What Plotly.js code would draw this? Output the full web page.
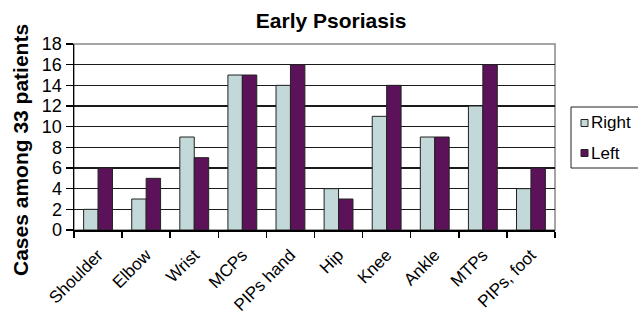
<!DOCTYPE html>
<html>
<head>
<script src="https://cdn.plot.ly/plotly-3.0.1.min.js"></script>
<style>html,body{margin:0;padding:0;background:#fff;}#chart{width:638px;height:314px;}</style>
</head>
<body>
<div id="chart"></div>
<script>
const categories = ["Shoulder","Elbow","Wrist","MCPs","PIPs hand","Hip","Knee","Ankle","MTPs","PIPs, foot"];
const rightValues = [2,3,9,15,14,4,11,9,12,4];
const leftValues = [6,5,7,15,16,3,14,9,16,6];
const yTicks = [0,2,4,6,8,10,12,14,16,18];
const seriesNames = ["Right","Left"];
const seriesColors = ["#c3d9d9","#5b1259"];

// plot area in pixels
const PL = 74, PR = 555, PT = 44, PB = 230;
const px = v => (v - PL) / (PR - PL);
const py = v => (PB - v) / (PB - PT);

const traces = [
  {type:'bar', name:seriesNames[0], x:categories, y:rightValues,
   marker:{color:seriesColors[0], line:{color:'#222', width:1}}},
  {type:'bar', name:seriesNames[1], x:categories, y:leftValues,
   marker:{color:seriesColors[1], line:{color:'#222', width:1}}}
];

// manual legend (box partially outside the page, as in the reference)
const legendShapes = [
  {type:'rect', xref:'paper', yref:'paper', x0:px(571), x1:px(660), y0:py(168), y1:py(107),
   line:{color:'#222', width:1}, fillcolor:'#fff', layer:'above'}
];
const legendAnns = [];
const entryY = [123, 153];
seriesNames.forEach((n, i) => {
  legendShapes.push({type:'rect', xref:'paper', yref:'paper', x0:px(581), x1:px(588),
    y0:py(entryY[i] + 3.5), y1:py(entryY[i] - 3.5), line:{color:'#222', width:1},
    fillcolor:seriesColors[i], layer:'above'});
  legendAnns.push({xref:'paper', yref:'paper', x:px(589), y:py(entryY[i]), xanchor:'left', yanchor:'middle',
    text:n, showarrow:false, font:{size:17, color:'#000'}});
});

const layout = {
  width:638, height:314,
  margin:{l:PL, r:638-PR, t:PT, b:314-PB, autoexpand:false},
  paper_bgcolor:'#fff', plot_bgcolor:'#fff',
  font:{family:'Arial, Liberation Sans, sans-serif', color:'#000'},
  showlegend:false,
  title:{text:'<b>Early Psoriasis</b>', font:{size:21, color:'#000'}, x:0.519, xanchor:'center', y:0.933, yanchor:'middle'},
  barmode:'group', bargap:0.4, bargroupgap:0,
  xaxis:{type:'category', tickangle:-45, tickfont:{size:17}, showgrid:false, ticklabelstandoff:7,
         showline:true, linecolor:'#000', linewidth:1.5, ticks:'outside', tickson:'boundaries',
         ticklen:6, tickcolor:'#000', tickwidth:1.5},
  yaxis:{range:[0,18], tickvals:yTicks, ticktext:yTicks.map(String), tickfont:{size:18},
         showgrid:true, gridcolor:'#1a1a1a', gridwidth:1.3, showline:true, linecolor:'#000', linewidth:1.5,
         ticks:'outside', ticklen:7, tickcolor:'#000', tickwidth:1.5, zeroline:false},
  annotations:[
    {xref:'paper', yref:'paper', x:px(20), y:py(150), xanchor:'center', yanchor:'middle', textangle:-90,
     text:'<b>Cases among 33 patients</b>', showarrow:false, font:{size:21, color:'#000'}}
  ].concat(legendAnns),
  shapes:[{type:'rect', xref:'paper', yref:'paper', x0:0, x1:1, y0:0, y1:1, layer:'below',
           line:{color:'#888', width:1.5}}].concat(legendShapes)
};

Plotly.newPlot('chart', traces, layout, {displayModeBar:false, staticPlot:true});
</script>
</body>
</html>
